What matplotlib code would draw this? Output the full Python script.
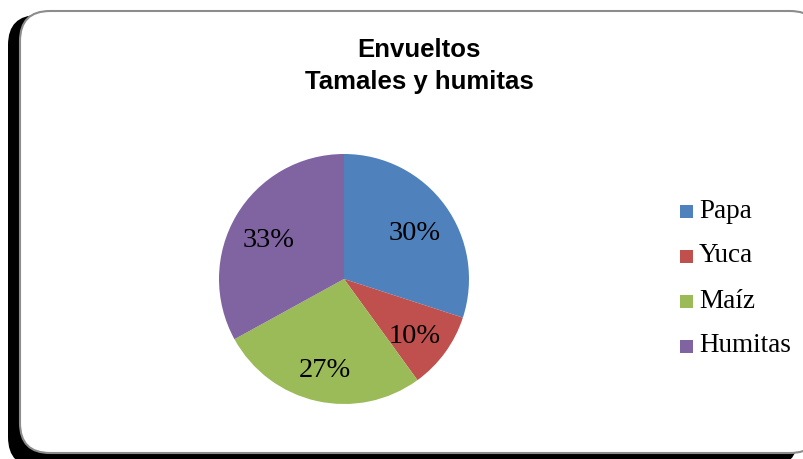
import matplotlib.pyplot as plt
from matplotlib.patches import FancyBboxPatch

# datos del gráfico
categorias = ['Papa', 'Yuca', 'Maíz', 'Humitas']
porcentajes = [30, 10, 27, 33]
colores = ['#4F81BD', '#C0504D', '#9BBB59', '#8064A2']
titulo = 'Envueltos\nTamales y humitas'

W, H = 804, 459
fig = plt.figure(figsize=(W / 100, H / 100), dpi=100)

# marco redondeado con sombra negra
fondo = fig.add_axes([0, 0, 1, 1])
fondo.set_xlim(0, W)
fondo.set_ylim(H, 0)
fondo.axis('off')
sombra = FancyBboxPatch((8 + 30, 15 + 30), 790 - 60, 452 - 60,
                        boxstyle='round,pad=30', fc='black', ec='none')
marco = FancyBboxPatch((20 + 30, 11 + 30), 800 - 60, 442 - 60,
                       boxstyle='round,pad=30', fc='white', ec='#8c8c8c', lw=1.5)
fondo.add_patch(sombra)
fondo.add_patch(marco)

fig.text(419 / W, 1 - 66 / H, titulo, ha='center', va='center',
         fontsize=18.5, fontweight='bold', family='Liberation Sans', linespacing=1.4)

# pastel
ax = fig.add_axes([219 / W, 1 - 404 / H, 250 / W, 250 / H])
cuñas, textos, pct = ax.pie(porcentajes, colors=colores, startangle=90, counterclock=False,
                            autopct='%1.0f%%', pctdistance=0.7, radius=1)
for t in pct:
    t.set_fontsize(20.5)
    t.set_family('Liberation Serif')
    x, y = t.get_position()
    t.set_position((x, y - 0.05))
ax.set_xlim(-1, 1)
ax.set_ylim(-1, 1)
ax.set_aspect('equal')

# leyenda
ax_ley = fig.add_axes([0, 0, 1, 1], facecolor='none')
ax_ley.set_xlim(0, W)
ax_ley.set_ylim(H, 0)
ax_ley.axis('off')
for i, (c, col) in enumerate(zip(categorias, colores)):
    y = 211 + i * 45
    ax_ley.add_patch(plt.Rectangle((680, y - 6), 13, 13, fc=col, ec='none'))
    ax_ley.text(699, y, c, va='center', ha='left', fontsize=19.5, family='Liberation Serif')

fig.savefig('out.png', dpi=100)
